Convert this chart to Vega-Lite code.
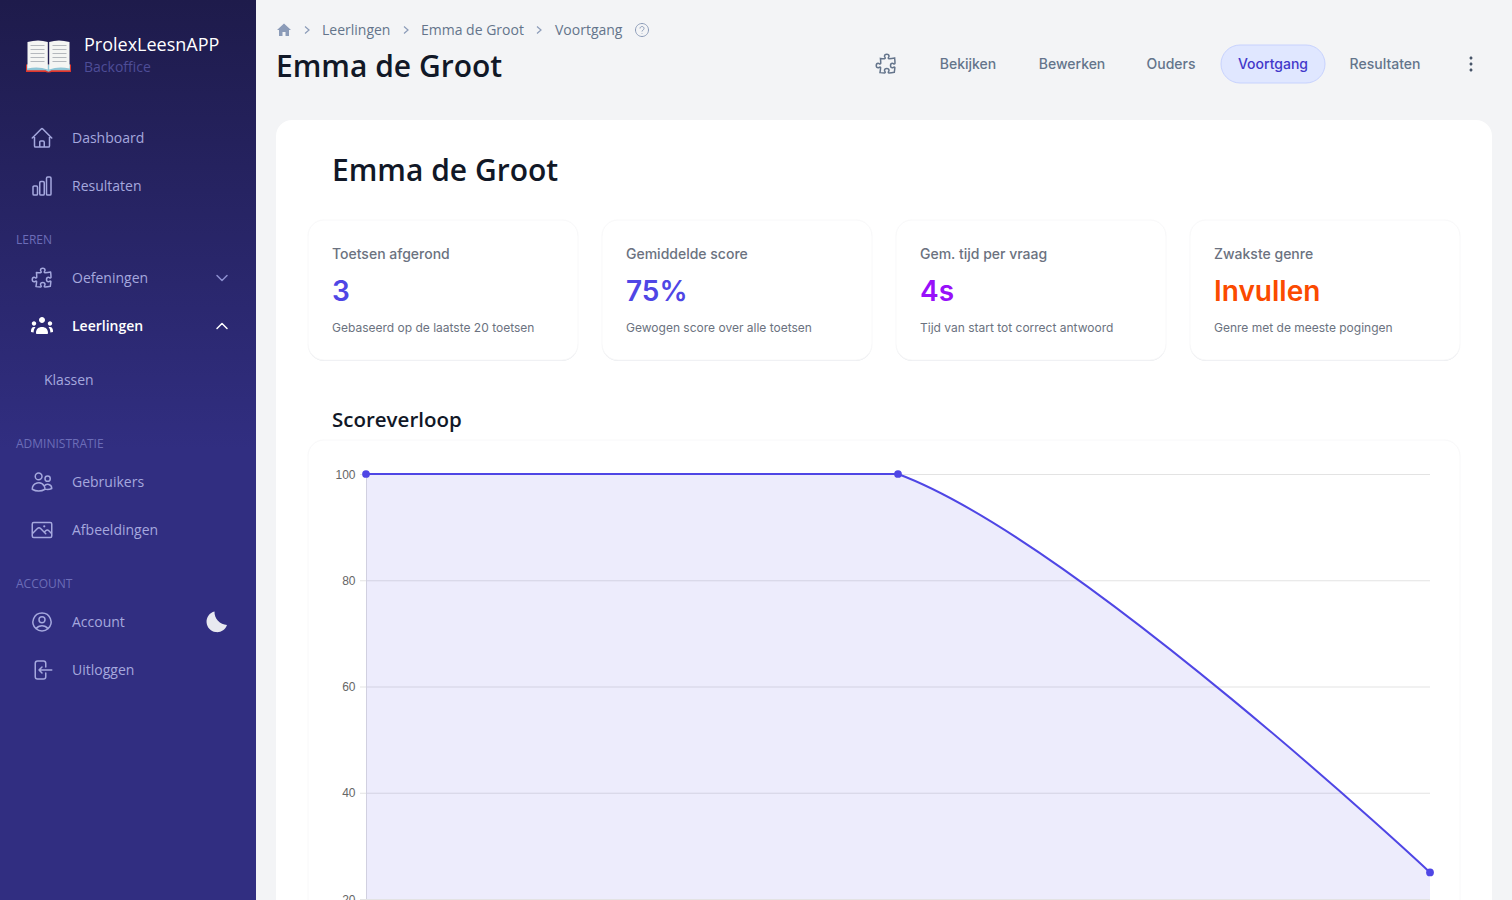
{
  "$schema": "https://vega.github.io/schema/vega-lite/v6.json",
  "width": 1512,
  "height": 900,
  "padding": 0,
  "autosize": "none",
  "background": "#f3f4f6",
  "config": {"view": {"stroke": null}},
  "datasets": {
    "menu": [
      {"groep": "Menu", "volgorde": 1, "tekst": "Dashboard", "icoon": "home", "status": "normaal"},
      {"groep": "Menu", "volgorde": 2, "tekst": "Resultaten", "icoon": "staven", "status": "normaal"},
      {"groep": "Menu", "volgorde": 3, "tekst": "Oefeningen", "icoon": "puzzel", "status": "normaal"},
      {"groep": "Menu", "volgorde": 4, "tekst": "Leerlingen", "icoon": "groep", "status": "actief"},
      {"groep": "Menu", "volgorde": 5, "tekst": "Gebruikers", "icoon": "gebruikers", "status": "normaal"},
      {"groep": "Menu", "volgorde": 6, "tekst": "Afbeeldingen", "icoon": "foto", "status": "normaal"},
      {"groep": "Menu", "volgorde": 7, "tekst": "Account", "icoon": "profiel", "status": "normaal"},
      {"groep": "Menu", "volgorde": 8, "tekst": "Uitloggen", "icoon": "uit", "status": "normaal"}
    ],
    "kopjes": [
      {"groep": "Kop", "volgorde": 1, "tekst": "LEREN"},
      {"groep": "Kop", "volgorde": 2, "tekst": "ADMINISTRATIE"},
      {"groep": "Kop", "volgorde": 3, "tekst": "ACCOUNT"}
    ],
    "kaarten": [
      {"kaart": "Toetsen afgerond", "regel": "titel", "tekst": "Toetsen afgerond"},
      {"kaart": "Gemiddelde score", "regel": "titel", "tekst": "Gemiddelde score"},
      {"kaart": "Gem. tijd per vraag", "regel": "titel", "tekst": "Gem. tijd per vraag"},
      {"kaart": "Zwakste genre", "regel": "titel", "tekst": "Zwakste genre"},
      {"kaart": "Toetsen afgerond", "regel": "waarde", "tekst": "3"},
      {"kaart": "Gemiddelde score", "regel": "waarde", "tekst": "75%"},
      {"kaart": "Gem. tijd per vraag", "regel": "waarde", "tekst": "4s"},
      {"kaart": "Zwakste genre", "regel": "waarde", "tekst": "Invullen"},
      {"kaart": "Toetsen afgerond", "regel": "toelichting", "tekst": "Gebaseerd op de laatste 20 toetsen"},
      {"kaart": "Gemiddelde score", "regel": "toelichting", "tekst": "Gewogen score over alle toetsen"},
      {"kaart": "Gem. tijd per vraag", "regel": "toelichting", "tekst": "Tijd van start tot correct antwoord"},
      {"kaart": "Zwakste genre", "regel": "toelichting", "tekst": "Genre met de meeste pogingen"}
    ],
    "tabs": [
      {"balk": "Tabs", "volgorde": 1, "tekst": "Bekijken", "status": "normaal"},
      {"balk": "Tabs", "volgorde": 2, "tekst": "Bewerken", "status": "normaal"},
      {"balk": "Tabs", "volgorde": 3, "tekst": "Ouders", "status": "normaal"},
      {"balk": "Tabs", "volgorde": 4, "tekst": "Voortgang", "status": "actief"},
      {"balk": "Tabs", "volgorde": 5, "tekst": "Resultaten", "status": "normaal"}
    ],
    "kruimels": [
      {"balk": "Pad", "volgorde": 1, "tekst": "Leerlingen"},
      {"balk": "Pad", "volgorde": 2, "tekst": "Emma de Groot"},
      {"balk": "Pad", "volgorde": 3, "tekst": "Voortgang"}
    ],
    "toetsen": [
      {"toets": "Toets 1", "score": 100},
      {"toets": "Toets 2", "score": 100},
      {"toets": "Toets 3", "score": 25}
    ],
    "rasterlijnen": [
      {"score": 20},
      {"score": 40},
      {"score": 60},
      {"score": 80},
      {"score": 100}
    ]
  },
  "resolve": {
    "scale": {"x": "independent", "y": "independent", "color": "independent", "shape": "independent"},
    "axis": {"x": "independent", "y": "independent"}
  },
  "layer": [
    {
      "data": {"values": [{"vlak": "Zijbalk"}]},
      "mark": {"type": "rect", "fill": {"gradient": "linear", "x1": 0, "y1": 0, "x2": 0, "y2": 1, "stops": [{"offset": 0, "color": "#1e1b4b"}, {"offset": 0.5, "color": "#312e81"}, {"offset": 1, "color": "#312e81"}]}},
      "encoding": {
        "x": {"field": "vlak", "type": "nominal", "axis": null, "scale": {"type": "band", "range": [0, 256], "padding": 0}},
        "y": {"field": "vlak", "type": "nominal", "axis": null, "scale": {"type": "band", "range": [0, 900], "padding": 0}}
      }
    },
    {
      "data": {"values": [{"deel": "rood"}, {"deel": "blauw"}, {"deel": "blad"}, {"deel": "regels"}]},
      "mark": {"type": "point", "filled": true, "size": 4, "opacity": 1},
      "encoding": {
        "x": {"field": "deel", "type": "nominal", "axis": null, "scale": {"type": "point", "range": [48.5, 48.5]}},
        "y": {"field": "deel", "type": "nominal", "axis": null, "scale": {"type": "point", "range": [55.5, 55.5]}},
        "color": {"field": "deel", "type": "nominal", "legend": null, "scale": {"domain": ["rood", "blauw", "blad", "regels"], "range": ["#e0362c", "#8ec5d6", "#f4f5f3", "#b4b8bd"]}},
        "shape": {"field": "deel", "type": "nominal", "legend": null, "scale": {"domain": ["rood", "blauw", "blad", "regels"], "range": [
          "M-22.5 9L-22.5 16.5L-3 16.5Q0 17.5 3 16.5L22.5 16.5L22.5 9z",
          "M-21.5 9L-21.5 14.8L-3 14.8L0 16.2L3 14.8L21.5 14.8L21.5 9z",
          "M-21 -13.5Q-10 -16.5 -.7 -13.5L-.7 14Q-10 10.5 -21 13zM21 -13.5Q10 -16.5 .7 -13.5L.7 14Q10 10.5 21 13z",
          "M-18 -10.5H-4V-9.5H-18zM-18 -6.5H-4V-5.5H-18zM-18 -2.5H-4V-1.5H-18zM-18 1.5H-4V2.5H-18zM-18 5.5H-4V6.5H-18zM4 -10.5H18V-9.5H4zM4 -6.5H18V-5.5H4zM4 -2.5H18V-1.5H4zM4 1.5H18V2.5H4zM4 5.5H18V6.5H4z"
        ]}}
      }
    },
    {
      "data": {"values": [{"tekst": "ProlexLeesnAPP"}]},
      "mark": {"type": "text", "align": "left", "baseline": "middle", "font": "Open Sans", "fontSize": 18, "color": "#ffffff"},
      "encoding": {
        "x": {"field": "tekst", "type": "nominal", "axis": null, "scale": {"type": "point", "range": [84, 84]}},
        "y": {"field": "tekst", "type": "nominal", "axis": null, "scale": {"type": "point", "range": [46, 46]}},
        "text": {"field": "tekst"}
      }
    },
    {
      "data": {"values": [{"tekst": "Backoffice"}]},
      "mark": {"type": "text", "align": "left", "baseline": "middle", "font": "Open Sans", "fontSize": 14, "color": "#4e4d97"},
      "encoding": {
        "x": {"field": "tekst", "type": "nominal", "axis": null, "scale": {"type": "point", "range": [84, 84]}},
        "y": {"field": "tekst", "type": "nominal", "axis": null, "scale": {"type": "point", "range": [68, 68]}},
        "text": {"field": "tekst"}
      }
    },
    {
      "data": {"name": "menu"},
      "encoding": {
        "y": {"field": "volgorde", "type": "quantitative", "axis": null, "scale": {"domain": [1, 2, 3, 4, 5, 6, 7, 8], "range": [138, 186, 278, 326, 482, 530, 622, 670]}}
      },
      "resolve": {"scale": {"x": "independent", "shape": "independent"}},
      "layer": [
        {
          "transform": [{"filter": "datum.status === 'normaal'"}],
          "mark": {"type": "point", "filled": false, "size": 4, "opacity": 1, "strokeWidth": 1.5, "color": "#a5a8de", "strokeCap": "round", "strokeJoin": "round"},
          "encoding": {
            "x": {"field": "groep", "type": "nominal", "axis": null, "scale": {"type": "point", "range": [42, 42]}},
            "shape": {"field": "icoon", "type": "nominal", "legend": null, "scale": {"domain": ["home", "staven", "puzzel", "gebruikers", "foto", "profiel", "uit"], "range": [
              "M-9.75 0l8.954-8.955c.44-.439 1.152-.439 1.591 0L9.75 0M-7.5 -2.25v10.125c0 .621.504 1.125 1.125 1.125H-2.25v-4.875c0-.621.504-1.125 1.125-1.125h2.25c.621 0 1.125.504 1.125 1.125V9h4.125c.621 0 1.125-.504 1.125-1.125V-2.25M-3.75 9h8.25",
              "M-9 1.125c0-.621.504-1.125 1.125-1.125h2.25c.621 0 1.125.504 1.125 1.125v6.75c0 .621-.504 1.125-1.125 1.125h-2.25c-.621 0-1.125-.504-1.125-1.125v-6.75zM-2.25 -3.375c0-.621.504-1.125 1.125-1.125h2.25c.621 0 1.125.504 1.125 1.125v11.25c0 .621-.504 1.125-1.125 1.125h-2.25c-.621 0-1.125-.504-1.125-1.125v-11.25zM4.5 -7.875c0-.621.504-1.125 1.125-1.125h2.25c.621 0 1.125.504 1.125 1.125v15.75c0 .621-.504 1.125-1.125 1.125h-2.25c-.621 0-1.125-.504-1.125-1.125v-15.75z",
              "M2.25 -5.913c0-.355.186-.676.401-.959.221-.29.349-.634.349-1.003 0-1.036-1.007-1.875-2.25-1.875s-2.25.84-2.25 1.875c0 .369.128.713.349 1.003.215.283.401.604.401.959a.64.64 0 0 1-.657.643 48.39 48.39 0 0 1-4.163-.3c.186 1.613.293 3.25.315 4.907a.656.656 0 0 1-.658.663c-.355 0-.676-.186-.959-.401a1.647 1.647 0 0 0-1.003-.349c-1.036 0-1.875 1.007-1.875 2.25s.84 2.25 1.875 2.25c.369 0 .713-.128 1.003-.349.283-.215.604-.401.959-.401.31 0 .555.26.532.57a48.039 48.039 0 0 1-.642 5.056c1.518.19 3.058.309 4.616.354a.64.64 0 0 0 .657-.643c0-.355-.186-.676-.401-.959a1.647 1.647 0 0 1-.349-1.003c0-1.035 1.008-1.875 2.25-1.875 1.243 0 2.25.84 2.25 1.875 0 .369-.128.713-.349 1.003-.215.283-.4.604-.4.959 0 .333.277.599.61.58a48.1 48.1 0 0 0 5.427-.63 48.05 48.05 0 0 0 .582-4.717.532.532 0 0 0-.533-.57c-.355 0-.676.186-.959.401-.29.221-.634.349-1.003.349-1.035 0-1.875-1.007-1.875-2.25s.84-2.25 1.875-2.25c.37 0 .713.128 1.003.349.283.215.604.401.96.401a.656.656 0 0 0 .658-.663 48.422 48.422 0 0 0-.37-5.36c-1.886.342-3.81.574-5.766.689a.578.578 0 0 1-.61-.58z",
              "M3 7.128a9.38 9.38 0 0 0 2.625.372 9.337 9.337 0 0 0 4.121-.952 4.125 4.125 0 0 0-7.533-2.493M3 7.128v-.003c0-1.113-.285-2.16-.786-3.07M3 7.128v.106A12.318 12.318 0 0 1 -3.376 9c-2.331 0-4.512-.645-6.374-1.766l-.001-.109a6.375 6.375 0 0 1 11.964-3.07M0 -5.625a3.375 3.375 0 1 1-6.75 0 3.375 3.375 0 0 1 6.75 0zm8.25 2.25a2.625 2.625 0 1 1-5.25 0 2.625 2.625 0 0 1 5.25 0z",
              "M-9.75 3.75l5.159-5.159a2.25 2.25 0 0 1 3.182 0l5.159 5.159m-1.5-1.5l1.409-1.409a2.25 2.25 0 0 1 3.182 0l2.909 2.909m-18 3.75h16.5a1.5 1.5 0 0 0 1.5-1.5V-6a1.5 1.5 0 0 0-1.5-1.5H-8.25A1.5 1.5 0 0 0-9.75 -6v12a1.5 1.5 0 0 0 1.5 1.5zm10.5-11.25h.008v.008h-.008V-3.75zm.375 0a.375.375 0 1 1-.75 0 .375.375 0 0 1 .75 0z",
              "M5.982 6.725A7.488 7.488 0 0 0 0 3.75a7.488 7.488 0 0 0-5.982 2.975m11.963 0a9 9 0 1 0-11.963 0m11.963 0A8.966 8.966 0 0 1 0 9a8.966 8.966 0 0 1-5.982-2.275M3 -2.25a3 3 0 1 1-6 0 3 3 0 0 1 6 0z",
              "M3.75 -3V-6.75A2.25 2.25 0 0 0 1.5 -9h-6a2.25 2.25 0 0 0-2.25 2.25v13.5A2.25 2.25 0 0 0 -4.5 9h6a2.25 2.25 0 0 0 2.25-2.25V3M0 -3l-3 3m0 0l3 3m-3-3h12.75"
            ]}}
          }
        },
        {
          "transform": [{"filter": "datum.status === 'actief'"}],
          "mark": {"type": "point", "filled": true, "size": 4, "opacity": 1, "color": "#ffffff"},
          "encoding": {
            "x": {"field": "groep", "type": "nominal", "axis": null, "scale": {"type": "point", "range": [42, 42]}},
            "shape": {"field": "icoon", "type": "nominal", "legend": null, "scale": {"domain": ["groep"], "range": ["M-3 -6a3 3 0 1 0 6 0a3 3 0 1 0-6 0zM-10.2 -2.5a2.2 2.2 0 1 0 4.4 0a2.2 2.2 0 1 0-4.4 0zM5.8 -2.5a2.2 2.2 0 1 0 4.4 0a2.2 2.2 0 1 0-4.4 0zM-6 7c0-4 2.5-6 6-6s6 2 6 6c0 .6-.5 1-1 1H-5c-.5 0-1-.4-1-1zM-11 6c-.3-3 .8-5 3-5 .6 0 1 .1 1.5.3-1.2 1.3-1.9 3-1.9 5.2zM11 6c.3-3-.8-5-3-5-.6 0-1 .1-1.5.3 1.2 1.3 1.9 3 1.9 5.2z"]}}
          }
        },
        {
          "transform": [{"filter": "datum.status === 'normaal'"}],
          "mark": {"type": "text", "align": "left", "baseline": "middle", "font": "Open Sans", "fontSize": 14, "dy": 1, "color": "#a5a8de"},
          "encoding": {
            "x": {"field": "groep", "type": "nominal", "axis": null, "scale": {"type": "point", "range": [72, 72]}},
            "text": {"field": "tekst"}
          }
        },
        {
          "transform": [{"filter": "datum.status === 'actief'"}],
          "mark": {"type": "text", "align": "left", "baseline": "middle", "font": "Open Sans", "fontSize": 14, "fontWeight": 600, "dy": 1, "color": "#ffffff"},
          "encoding": {
            "x": {"field": "groep", "type": "nominal", "axis": null, "scale": {"type": "point", "range": [72, 72]}},
            "text": {"field": "tekst"}
          }
        }
      ]
    },
    {
      "data": {"name": "kopjes"},
      "mark": {"type": "text", "align": "left", "baseline": "middle", "font": "Open Sans", "fontSize": 12, "color": "#6c6db8"},
      "encoding": {
        "x": {"field": "groep", "type": "nominal", "axis": null, "scale": {"type": "point", "range": [16, 16]}},
        "y": {"field": "volgorde", "type": "quantitative", "axis": null, "scale": {"domain": [1, 2, 3], "range": [240, 444, 584]}},
        "text": {"field": "tekst"}
      }
    },
    {
      "data": {"values": [{"tekst": "Klassen"}]},
      "mark": {"type": "text", "align": "left", "baseline": "middle", "font": "Open Sans", "fontSize": 14, "color": "#a5a8de"},
      "encoding": {
        "x": {"field": "tekst", "type": "nominal", "axis": null, "scale": {"type": "point", "range": [44, 44]}},
        "y": {"field": "tekst", "type": "nominal", "axis": null, "scale": {"type": "point", "range": [381, 381]}},
        "text": {"field": "tekst"}
      }
    },
    {
      "data": {"values": [{"menu": "Oefeningen", "vorm": "open", "staat": "dicht"}, {"menu": "Leerlingen", "vorm": "toe", "staat": "open"}]},
      "mark": {"type": "point", "filled": false, "size": 4, "opacity": 1, "strokeWidth": 1.5, "strokeCap": "round", "strokeJoin": "round"},
      "encoding": {
        "x": {"field": "menu", "type": "nominal", "axis": null, "scale": {"type": "point", "range": [222, 222]}},
        "y": {"field": "menu", "type": "nominal", "axis": null, "scale": {"type": "point", "domain": ["Oefeningen", "Leerlingen"], "range": [278, 326], "padding": 0}},
        "shape": {"field": "vorm", "type": "nominal", "legend": null, "scale": {"domain": ["open", "toe"], "range": ["M-5 -2.5L0 2.5L5 -2.5", "M-5 2.5L0 -2.5L5 2.5"]}},
        "color": {"field": "staat", "type": "nominal", "legend": null, "scale": {"domain": ["dicht", "open"], "range": ["#8d8fd0", "#ffffff"]}}
      }
    },
    {
      "data": {"values": [{"knop": "Donkere modus"}]},
      "mark": {"type": "point", "filled": true, "size": 4, "opacity": 1, "color": "#e8e9f0", "shape": "M-2 -10.5A10.5 10.5 0 1 0 10.5 3A13 13 0 0 1 -2 -10.5z"},
      "encoding": {
        "x": {"field": "knop", "type": "nominal", "axis": null, "scale": {"type": "point", "range": [216.5, 216.5]}},
        "y": {"field": "knop", "type": "nominal", "axis": null, "scale": {"type": "point", "range": [622, 622]}}
      }
    },
    {
      "data": {"values": [{"icoon": "huis"}]},
      "mark": {"type": "point", "filled": true, "size": 4, "opacity": 1, "color": "#8b9bb8", "shape": "M-7 0L0 -6.5L7 0H5V6H1.5V2H-1.5V6H-5V0z"},
      "encoding": {
        "x": {"field": "icoon", "type": "nominal", "axis": null, "scale": {"type": "point", "range": [284, 284]}},
        "y": {"field": "icoon", "type": "nominal", "axis": null, "scale": {"type": "point", "range": [30, 30]}}
      }
    },
    {
      "data": {"name": "kruimels"},
      "encoding": {
        "y": {"field": "balk", "type": "nominal", "axis": null, "scale": {"type": "point", "range": [30, 30]}}
      },
      "resolve": {"scale": {"x": "independent"}},
      "layer": [
        {
          "mark": {"type": "point", "filled": false, "size": 4, "opacity": 1, "strokeWidth": 1.2, "color": "#8b9bb8", "shape": "M-2 -3.5L2 0L-2 3.5"},
          "encoding": {
            "x": {"field": "volgorde", "type": "quantitative", "axis": null, "scale": {"domain": [1, 2, 3], "range": [307, 406, 539]}}
          }
        },
        {
          "mark": {"type": "text", "align": "left", "baseline": "middle", "font": "Open Sans", "fontSize": 14, "dy": 1, "color": "#64748b"},
          "encoding": {
            "x": {"field": "volgorde", "type": "quantitative", "axis": null, "scale": {"domain": [1, 2, 3], "range": [322, 421, 555]}},
            "text": {"field": "tekst"}
          }
        }
      ]
    },
    {
      "data": {"values": [{"icoon": "hulp"}]},
      "mark": {"type": "point", "filled": false, "size": 4, "opacity": 1, "strokeWidth": 1, "color": "#8b9bb8", "shape": "M-6.5 0a6.5 6.5 0 1 0 13 0a6.5 6.5 0 1 0-13 0zM-2 -1.5c0-1.2 1-2 2-2s2 .8 2 2c0 1.6-2 1.6-2 3M0 3v.6"},
      "encoding": {
        "x": {"field": "icoon", "type": "nominal", "axis": null, "scale": {"type": "point", "range": [642, 642]}},
        "y": {"field": "icoon", "type": "nominal", "axis": null, "scale": {"type": "point", "range": [30, 30]}}
      }
    },
    {
      "data": {"values": [{"tekst": "Emma de Groot", "plek": "Kop"}]},
      "mark": {"type": "text", "align": "left", "baseline": "middle", "font": "Open Sans", "fontSize": 30, "fontWeight": 600, "color": "#111827"},
      "encoding": {
        "x": {"field": "plek", "type": "nominal", "axis": null, "scale": {"type": "point", "range": [276, 276]}},
        "y": {"field": "plek", "type": "nominal", "axis": null, "scale": {"type": "point", "range": [68, 68]}},
        "text": {"field": "tekst"}
      }
    },
    {
      "data": {"values": [{"knop": "Voortgang"}]},
      "mark": {"type": "rect", "fill": "#e0e7ff", "stroke": "#c7d2fe", "cornerRadius": 19},
      "encoding": {
        "x": {"field": "knop", "type": "nominal", "axis": null, "scale": {"type": "band", "range": [1221, 1325], "padding": 0}},
        "y": {"field": "knop", "type": "nominal", "axis": null, "scale": {"type": "band", "range": [45, 83], "padding": 0}}
      }
    },
    {
      "data": {"name": "tabs"},
      "mark": {"type": "text", "align": "center", "baseline": "middle", "font": "Inter", "fontSize": 14, "fontWeight": 500, "dy": 1},
      "encoding": {
        "x": {"field": "volgorde", "type": "quantitative", "axis": null, "scale": {"domain": [1, 2, 3, 4, 5], "range": [968, 1072, 1171, 1273, 1385]}},
        "y": {"field": "balk", "type": "nominal", "axis": null, "scale": {"type": "point", "range": [64, 64]}},
        "color": {"field": "status", "type": "nominal", "legend": null, "scale": {"domain": ["normaal", "actief"], "range": ["#64748b", "#4338ca"]}},
        "text": {"field": "tekst"}
      }
    },
    {
      "data": {"values": [{"icoon": "puzzel"}]},
      "mark": {"type": "point", "filled": false, "size": 4, "opacity": 1, "strokeWidth": 1.5, "color": "#64748b", "shape": "M2.25 -5.913c0-.355.186-.676.401-.959.221-.29.349-.634.349-1.003 0-1.036-1.007-1.875-2.25-1.875s-2.25.84-2.25 1.875c0 .369.128.713.349 1.003.215.283.401.604.401.959a.64.64 0 0 1-.657.643 48.39 48.39 0 0 1-4.163-.3c.186 1.613.293 3.25.315 4.907a.656.656 0 0 1-.658.663c-.355 0-.676-.186-.959-.401a1.647 1.647 0 0 0-1.003-.349c-1.036 0-1.875 1.007-1.875 2.25s.84 2.25 1.875 2.25c.369 0 .713-.128 1.003-.349.283-.215.604-.401.959-.401.31 0 .555.26.532.57a48.039 48.039 0 0 1-.642 5.056c1.518.19 3.058.309 4.616.354a.64.64 0 0 0 .657-.643c0-.355-.186-.676-.401-.959a1.647 1.647 0 0 1-.349-1.003c0-1.035 1.008-1.875 2.25-1.875 1.243 0 2.25.84 2.25 1.875 0 .369-.128.713-.349 1.003-.215.283-.4.604-.4.959 0 .333.277.599.61.58a48.1 48.1 0 0 0 5.427-.63 48.05 48.05 0 0 0 .582-4.717.532.532 0 0 0-.533-.57c-.355 0-.676.186-.959.401-.29.221-.634.349-1.003.349-1.035 0-1.875-1.007-1.875-2.25s.84-2.25 1.875-2.25c.37 0 .713.128 1.003.349.283.215.604.401.96.401a.656.656 0 0 0 .658-.663 48.422 48.422 0 0 0-.37-5.36c-1.886.342-3.81.574-5.766.689a.578.578 0 0 1-.61-.58z"},
      "encoding": {
        "x": {"field": "icoon", "type": "nominal", "axis": null, "scale": {"type": "point", "range": [886, 886]}},
        "y": {"field": "icoon", "type": "nominal", "axis": null, "scale": {"type": "point", "range": [64, 64]}}
      }
    },
    {
      "data": {"values": [{"icoon": "meer"}]},
      "mark": {"type": "point", "filled": true, "size": 4, "opacity": 1, "color": "#475569", "shape": "M-1.5 -6a1.5 1.5 0 1 0 3 0a1.5 1.5 0 1 0-3 0zM-1.5 0a1.5 1.5 0 1 0 3 0a1.5 1.5 0 1 0-3 0zM-1.5 6a1.5 1.5 0 1 0 3 0a1.5 1.5 0 1 0-3 0z"},
      "encoding": {
        "x": {"field": "icoon", "type": "nominal", "axis": null, "scale": {"type": "point", "range": [1471, 1471]}},
        "y": {"field": "icoon", "type": "nominal", "axis": null, "scale": {"type": "point", "range": [64, 64]}}
      }
    },
    {
      "data": {"values": [{"vlak": "Paneel"}]},
      "mark": {"type": "rect", "fill": "#ffffff", "cornerRadius": 16},
      "encoding": {
        "x": {"field": "vlak", "type": "nominal", "axis": null, "scale": {"type": "band", "range": [276, 1492], "padding": 0}},
        "y": {"field": "vlak", "type": "nominal", "axis": null, "scale": {"type": "band", "range": [120, 960], "padding": 0}}
      }
    },
    {
      "data": {"values": [{"tekst": "Emma de Groot", "plek": "Paneel"}]},
      "mark": {"type": "text", "align": "left", "baseline": "middle", "font": "Open Sans", "fontSize": 30, "fontWeight": 600, "color": "#111827"},
      "encoding": {
        "x": {"field": "plek", "type": "nominal", "axis": null, "scale": {"type": "point", "range": [332, 332]}},
        "y": {"field": "plek", "type": "nominal", "axis": null, "scale": {"type": "point", "range": [172, 172]}},
        "text": {"field": "tekst"}
      }
    },
    {
      "data": {"values": [{"tekst": "Scoreverloop"}]},
      "mark": {"type": "text", "align": "left", "baseline": "middle", "font": "Open Sans", "fontSize": 20.5, "fontWeight": 600, "color": "#111827"},
      "encoding": {
        "x": {"field": "tekst", "type": "nominal", "axis": null, "scale": {"type": "point", "range": [332, 332]}},
        "y": {"field": "tekst", "type": "nominal", "axis": null, "scale": {"type": "point", "range": [421, 421]}},
        "text": {"field": "tekst"}
      }
    },
    {
      "data": {"name": "kaarten"},
      "transform": [{"filter": "datum.regel === 'titel'"}],
      "mark": {"type": "rect", "fill": "#e9ebee", "cornerRadius": 16},
      "encoding": {
        "x": {"field": "kaart", "type": "nominal", "axis": null, "sort": null, "scale": {"type": "band", "range": [308, 1460], "paddingInner": 0.0816, "paddingOuter": 0}},
        "y": {"field": "regel", "type": "nominal", "axis": null, "scale": {"type": "band", "range": [221, 361], "padding": 0}}
      }
    },
    {
      "data": {"name": "kaarten"},
      "transform": [{"filter": "datum.regel === 'titel'"}],
      "mark": {"type": "rect", "fill": "#ffffff", "stroke": "#f8f8f9", "cornerRadius": 16},
      "encoding": {
        "x": {"field": "kaart", "type": "nominal", "axis": null, "sort": null, "scale": {"type": "band", "range": [308, 1460], "paddingInner": 0.0816, "paddingOuter": 0}},
        "y": {"field": "regel", "type": "nominal", "axis": null, "scale": {"type": "band", "range": [220, 360], "padding": 0}}
      }
    },
    {
      "data": {"name": "kaarten"},
      "transform": [{"filter": "datum.regel === 'titel'"}],
      "mark": {"type": "text", "align": "left", "baseline": "middle", "font": "Inter", "fontSize": 14, "fontWeight": 500, "dy": 1, "color": "#6b7280"},
      "encoding": {
        "x": {"field": "kaart", "type": "nominal", "axis": null, "sort": null, "scale": {"type": "point", "range": [332, 1214], "padding": 0}},
        "y": {"field": "regel", "type": "nominal", "axis": null, "scale": {"type": "point", "domain": ["titel", "waarde", "toelichting"], "range": [254, 328], "padding": 0}},
        "text": {"field": "tekst"}
      }
    },
    {
      "data": {"name": "kaarten"},
      "transform": [{"filter": "datum.regel === 'waarde'"}],
      "mark": {"type": "text", "align": "left", "baseline": "middle", "font": "Inter", "fontSize": 28, "fontWeight": 600, "dy": 1.5},
      "encoding": {
        "x": {"field": "kaart", "type": "nominal", "axis": null, "sort": null, "scale": {"type": "point", "range": [332, 1214], "padding": 0}},
        "y": {"field": "regel", "type": "nominal", "axis": null, "scale": {"type": "point", "domain": ["titel", "waarde", "toelichting"], "range": [254, 328], "padding": 0}},
        "color": {"field": "kaart", "type": "nominal", "legend": null, "scale": {"domain": ["Toetsen afgerond", "Gemiddelde score", "Gem. tijd per vraag", "Zwakste genre"], "range": ["#4f46e5", "#4f46e5", "#9810fa", "#fb4a00"]}},
        "text": {"field": "tekst"}
      }
    },
    {
      "data": {"name": "kaarten"},
      "transform": [{"filter": "datum.regel === 'toelichting'"}],
      "mark": {"type": "text", "align": "left", "baseline": "middle", "font": "Inter", "fontSize": 12, "color": "#6b7280"},
      "encoding": {
        "x": {"field": "kaart", "type": "nominal", "axis": null, "sort": null, "scale": {"type": "point", "range": [332, 1214], "padding": 0}},
        "y": {"field": "regel", "type": "nominal", "axis": null, "scale": {"type": "point", "domain": ["titel", "waarde", "toelichting"], "range": [254, 328], "padding": 0}},
        "text": {"field": "tekst"}
      }
    },
    {
      "data": {"values": [{"vlak": "Grafiek"}]},
      "mark": {"type": "rect", "fill": "#ffffff", "stroke": "#f8f8f9", "cornerRadius": 16},
      "encoding": {
        "x": {"field": "vlak", "type": "nominal", "axis": null, "scale": {"type": "band", "range": [308, 1460], "padding": 0}},
        "y": {"field": "vlak", "type": "nominal", "axis": null, "scale": {"type": "band", "range": [440, 960], "padding": 0}}
      }
    },
    {
      "data": {"name": "rasterlijnen"},
      "mark": {"type": "rule", "color": "#e3e3e3", "strokeWidth": 1},
      "encoding": {
        "x": {"datum": "Toets 1", "type": "nominal", "axis": null, "scale": {"type": "point", "domain": ["Toets 1", "Toets 2", "Toets 3"], "range": [360, 1430], "padding": 0}},
        "x2": {"datum": "Toets 3"},
        "y": {"field": "score", "type": "quantitative", "axis": null, "scale": {"domain": [20, 100], "range": [899.5, 474.5]}}
      }
    },
    {
      "data": {"values": [{"toets": "Toets 1"}]},
      "mark": {"type": "rule", "color": "#e0e0e0", "strokeWidth": 1},
      "encoding": {
        "x": {"field": "toets", "type": "nominal", "axis": null, "scale": {"type": "point", "domain": ["Toets 1", "Toets 2", "Toets 3"], "range": [366.5, 1430.5], "padding": 0}},
        "y": {"datum": 100, "type": "quantitative", "axis": null, "scale": {"domain": [20, 100], "range": [899, 474]}},
        "y2": {"datum": 20}
      }
    },
    {
      "data": {"name": "toetsen"},
      "encoding": {
        "x": {"field": "toets", "type": "nominal", "axis": null, "scale": {"type": "point", "range": [366, 1430], "padding": 0}},
        "y": {"field": "score", "type": "quantitative", "axis": null, "scale": {"domain": [20, 100], "range": [899, 474]}}
      },
      "layer": [
        {
          "mark": {"type": "area", "interpolate": "cardinal", "tension": 0, "color": "#4f46e5", "opacity": 0.1},
          "encoding": {"y2": {"datum": 20}}
        },
        {
          "mark": {"type": "line", "interpolate": "cardinal", "tension": 0, "color": "#4f46e5", "strokeWidth": 2}
        }
      ]
    },
    {
      "data": {"values": [{"vlak": "Bovenrand"}]},
      "mark": {"type": "rect", "fill": "#ffffff"},
      "encoding": {
        "x": {"field": "vlak", "type": "nominal", "axis": null, "scale": {"type": "band", "range": [367, 1432], "padding": 0}},
        "y": {"field": "vlak", "type": "nominal", "axis": null, "scale": {"type": "band", "range": [441, 473.5], "padding": 0}}
      }
    },
    {
      "data": {"name": "rasterlijnen"},
      "mark": {"type": "point", "opacity": 0},
      "encoding": {
        "y": {
          "field": "score",
          "type": "quantitative",
          "scale": {"domain": [20, 100], "range": [899, 474]},
          "axis": {"orient": "left", "title": null, "offset": -366, "values": [20, 40, 60, 80, 100], "zindex": 1, "grid": false, "domain": false, "ticks": false, "labelFont": "Liberation Sans", "labelFontSize": 12, "labelColor": "#666666", "labelPadding": 11}
        }
      }
    },
    {
      "data": {"name": "toetsen"},
      "encoding": {
        "x": {"field": "toets", "type": "nominal", "axis": null, "scale": {"type": "point", "range": [366, 1430], "padding": 0}},
        "y": {"field": "score", "type": "quantitative", "axis": null, "scale": {"domain": [20, 100], "range": [899, 474]}}
      },
      "layer": [
        {
          "transform": [{"filter": "datum.toets !== 'Toets 3'"}],
          "mark": {"type": "line", "color": "#4f46e5", "strokeWidth": 2}
        },
        {
          "mark": {"type": "point", "filled": true, "size": 60, "opacity": 1, "color": "#4f46e5"}
        }
      ]
    }
  ]
}
